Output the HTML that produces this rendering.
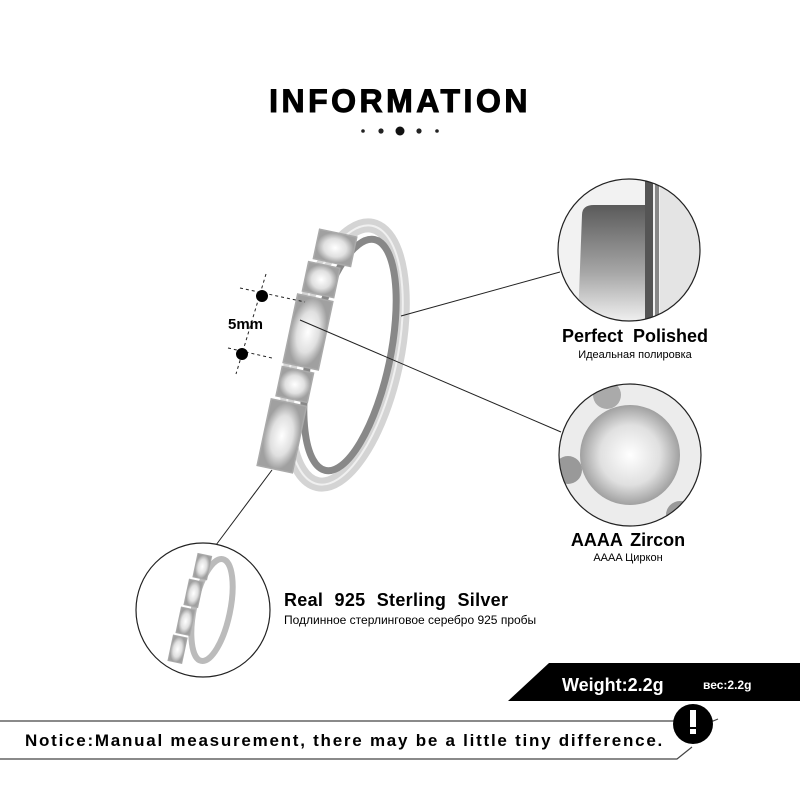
<!DOCTYPE html>
<html><head><meta charset="utf-8"><style>
body{margin:0;background:#fff}
svg{display:block}
text{font-family:"Liberation Sans",sans-serif}
</style></head><body>
<svg width="800" height="800" viewBox="0 0 800 800" xmlns="http://www.w3.org/2000/svg">
<defs>
<linearGradient id="pol" x1="0" y1="0" x2="0" y2="1">
<stop offset="0" stop-color="#5a5a5a"/><stop offset="0.6" stop-color="#a8a8a8"/><stop offset="1" stop-color="#eeeeee"/></linearGradient>
<radialGradient id="gem" cx="0.5" cy="0.5" r="0.5">
<stop offset="0" stop-color="#ffffff"/><stop offset="0.6" stop-color="#e0e0e0"/><stop offset="1" stop-color="#a0a0a0"/></radialGradient>
<clipPath id="c1"><circle cx="629" cy="250" r="71"/></clipPath>
<clipPath id="c2"><circle cx="630" cy="455" r="71"/></clipPath>
</defs>

<text x="400" y="112" text-anchor="middle" font-size="32" font-weight="bold" letter-spacing="3.5" stroke="#000" stroke-width="1">INFORMATION</text>
<circle cx="363" cy="131" r="1.8" fill="#222"/><circle cx="381" cy="131" r="2.6" fill="#222"/>
<circle cx="400" cy="131" r="4.5" fill="#111"/><circle cx="419" cy="131" r="2.6" fill="#222"/><circle cx="437" cy="131" r="1.8" fill="#222"/>

<!-- Main ring -->
<g>
<ellipse cx="345" cy="355" rx="52" ry="132" transform="rotate(12 345 355)" fill="none" stroke="#d4d4d4" stroke-width="14"/>
<ellipse cx="350" cy="355" rx="40" ry="118" transform="rotate(12 350 355)" fill="none" stroke="#888" stroke-width="7"/>
<ellipse cx="345" cy="355" rx="52" ry="132" transform="rotate(12 345 355)" fill="none" stroke="#f0f0f0" stroke-width="2"/>
<g transform="rotate(12 300 360)" fill="url(#gem)" stroke="#aaa" stroke-width="1.5">
<rect x="292" y="228" width="38" height="30" />
<rect x="288" y="262" width="32" height="30"/>
<rect x="284" y="296" width="36" height="70"/>
<rect x="284" y="370" width="32" height="30"/>
<rect x="280" y="404" width="36" height="68"/>
</g>
</g>
<line x1="401" y1="316" x2="560" y2="272" stroke="#222" stroke-width="1"/>
<line x1="300" y1="320" x2="561" y2="432" stroke="#222" stroke-width="1"/>
<line x1="272" y1="470" x2="216" y2="545" stroke="#222" stroke-width="1"/>

<!-- 5mm marker -->
<g stroke="#222" stroke-width="1" stroke-dasharray="3,3" fill="none">
<line x1="240" y1="288" x2="305" y2="302"/>
<line x1="228" y1="348" x2="272" y2="358"/>
<line x1="266" y1="274" x2="236" y2="374"/>
</g>
<circle cx="262" cy="296" r="6" fill="#000"/>
<circle cx="242" cy="354" r="6" fill="#000"/>
<text x="228" y="329" font-size="15" font-weight="bold">5mm</text>

<!-- Circle 1 -->
<g clip-path="url(#c1)">
<rect x="550" y="170" width="160" height="160" fill="#f2f2f2"/>
<path d="M582 215 Q582 205 594 205 L648 205 L650 320 L578 320 Z" fill="url(#pol)"/>
<rect x="645" y="170" width="8" height="160" fill="#555"/>
<rect x="655" y="170" width="4" height="160" fill="#888"/>
<rect x="660" y="170" width="50" height="160" fill="#e4e4e4"/>
</g>
<circle cx="629" cy="250" r="71" fill="none" stroke="#222" stroke-width="1.2"/>
<text x="635" y="342" text-anchor="middle" font-size="18" font-weight="bold" word-spacing="5">Perfect  Polished</text>
<text x="635" y="358" text-anchor="middle" font-size="11">Идеальная полировка</text>

<!-- Circle 2 -->
<g clip-path="url(#c2)">
<rect x="555" y="380" width="150" height="150" fill="#ececec"/>
<circle cx="630" cy="455" r="50" fill="url(#gem)"/>
<circle cx="607" cy="395" r="14" fill="#aaa"/>
<circle cx="568" cy="470" r="14" fill="#999"/>
<circle cx="680" cy="515" r="14" fill="#999"/>
</g>
<circle cx="630" cy="455" r="71" fill="none" stroke="#222" stroke-width="1.2"/>
<text x="628" y="546" text-anchor="middle" font-size="18" font-weight="bold" word-spacing="3">AAAA  Zircon</text>
<text x="628" y="561" text-anchor="middle" font-size="11">AAAA Циркон</text>

<!-- Small circle -->
<circle cx="203" cy="610" r="67" fill="#fff" stroke="#222" stroke-width="1.2"/>
<ellipse cx="212" cy="610" rx="18" ry="52" transform="rotate(12 212 610)" fill="none" stroke="#bbb" stroke-width="6"/>
<g transform="rotate(12 190 610)" fill="url(#gem)" stroke="#aaa">
<rect x="186" y="553" width="14" height="24"/><rect x="183" y="580" width="14" height="26"/>
<rect x="181" y="609" width="14" height="26"/><rect x="179" y="638" width="14" height="26"/>
</g>
<text x="284" y="606" font-size="18" font-weight="bold" word-spacing="6" letter-spacing="0.3">Real 925  Sterling  Silver</text>
<text x="284" y="624" font-size="12">Подлинное стерлинговое серебро 925 пробы</text>

<!-- Weight banner -->
<polygon points="508,701 549,663 800,663 800,701" fill="#000"/>
<text x="562" y="691" font-size="18" font-weight="bold" fill="#fff">Weight:2.2g</text>
<text x="703" y="689" font-size="12" font-weight="bold" fill="#fff">вес:2.2g</text>

<!-- Notice -->
<polyline points="0,721 713,721 718,719" fill="none" stroke="#444" stroke-width="1.2"/>
<polyline points="0,759 677,759 692,747" fill="none" stroke="#444" stroke-width="1.2"/>
<text x="25" y="746" font-size="17" font-weight="bold" letter-spacing="1.75">Notice:Manual measurement, there may be a little tiny difference.</text>
<circle cx="693" cy="724" r="20" fill="#000"/>
<rect x="690" y="710" width="6" height="17" fill="#fff"/>
<rect x="690" y="729" width="6" height="5" fill="#fff"/>
</svg>
</body></html>
